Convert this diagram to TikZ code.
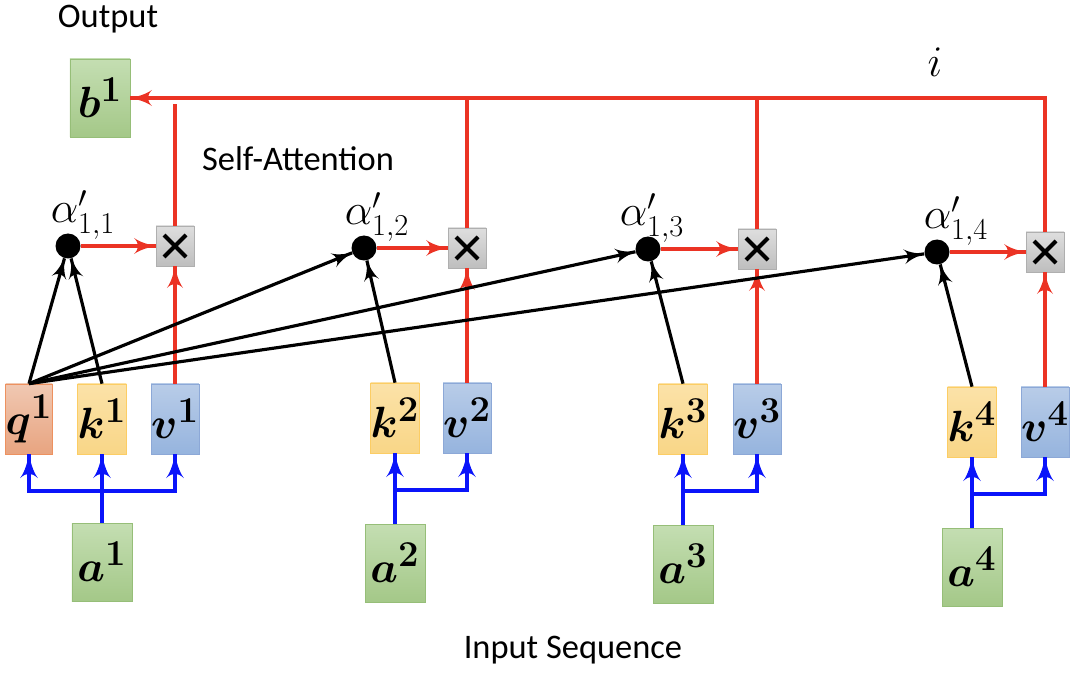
\documentclass[tikz,border=0pt]{standalone}
\usepackage[no-math]{fontspec}
\setmainfont{Carlito}
\usepackage{amsmath}
\usepackage{amssymb}
\usepackage{xcolor}
\usetikzlibrary{decorations.markings}
\usetikzlibrary{arrows}
\tikzset{tip/.style = {decoration={markings,
                                   mark=at position 1 with {\arrow[scale=1.4]{latex'}}},
                       postaction={decorate}}}
\definecolor{mred}{RGB}{235, 51, 36}
\definecolor{mblue}{RGB}{10, 20, 250}
\definecolor{mgreent}{RGB}{196, 222, 178}
\definecolor{mgreen}{RGB}{164, 200, 136}
\definecolor{mgreenb}{RGB}{150, 190, 120}
\definecolor{moranget}{RGB}{240, 200, 178}
\definecolor{morange}{RGB}{232, 164, 128}
\definecolor{morangeb}{RGB}{237, 145, 95}
\definecolor{myellowt}{RGB}{251, 226, 168}
\definecolor{myellow}{RGB}{249, 214, 135}
\definecolor{myellowb}{RGB}{252, 205, 100}
\definecolor{mlbluet}{RGB}{184, 204, 232}
\definecolor{mlblue}{RGB}{150, 180, 222}
\definecolor{mlblueb}{RGB}{140, 168, 215}
\definecolor{mgrayt}{RGB}{222, 222, 222}
\definecolor{mgray}{RGB}{190, 190, 190}
\definecolor{mgrayb}{RGB}{175, 175, 175}
\tikzset{txt/.style = {font=\fontsize{19.6}{22}\selectfont, inner sep=0}}
\tikzset{mathlab/.style = {font=\fontsize{26}{28}\selectfont, inner sep=0}}
\tikzset{tok/.style = {rectangle, inner sep=0, font=\fontsize{28}{30}\selectfont}}
\tikzset{inbox/.style = {tok, draw=mgreenb, top color=mgreent, bottom color=mgreen,
                         minimum width=12mm, minimum height=15.6mm}}
\tikzset{qbox/.style = {tok, draw=morangeb, top color=moranget, bottom color=morange,
                        minimum width=7.6mm, minimum height=14mm}}
\tikzset{kbox/.style = {tok, draw=myellowb, top color=myellowt, bottom color=myellow,
                        minimum width=7.6mm, minimum height=14mm}}
\tikzset{vbox/.style = {tok, draw=mlblueb, top color=mlbluet, bottom color=mlblue,
                        minimum width=7.6mm, minimum height=14mm}}
\tikzset{dot/.style = {fill, circle, inner sep=0, minimum size=5mm}}
\tikzset{mult/.style = {rectangle, draw=mgrayb, top color=mgrayt, bottom color=mgray,
                        minimum width=7.6mm, minimum height=8mm,
                        path picture={
                          \draw [black, line width=2.4pt] ([shift={(-11, -11)}]path picture bounding box.center)
                            -- ([shift={(11, 11)}]path picture bounding box.center);
                          \draw [black, line width=2.4pt] ([shift={(-11, 11)}]path picture bounding box.center)
                            -- ([shift={(11, -11)}]path picture bounding box.center);}}}
\tikzset{redline/.style = {mred, line width=2pt}}
\tikzset{blueline/.style = {mblue, line width=2.3pt}}
\tikzset{blackline/.style = {black, line width=1.8pt}}

\begin{document}
\begin{tikzpicture}[x=0.2mm, y=-0.2mm]
    \useasboundingbox (0, 0) rectangle (1073, 675);

    \node [txt] (outlab) at (108, 19) {Output};
    \node [txt] (salab) at (298, 159) {Self-Attention};
    \node [txt] (inlab) at (573, 650) {Input Sequence};
    \node [mathlab] (ilab) at (935, 62) {$i$};

    \node [inbox] (b1) at (100, 98) {$\boldsymbol{b^1}$};

    % first token: query, key, value
    \node [qbox] (q1) at (29, 419) {$\boldsymbol{q^1}$};
    \node [kbox] (k1) at (102, 419) {$\boldsymbol{k^1}$};
    \node [vbox] (v1) at (175, 419) {$\boldsymbol{v^1}$};
    \node [inbox] (a1) at (102, 562) {$\boldsymbol{a^1}$};
    \node [dot] (d1) at (68, 246) {};
    \node [mult] (m1) at (175, 246) {};
    \node [mathlab] (l1) at (83, 215) {$\alpha'_{1,1}$};
    \coordinate (j1) at (102, 491);
    \coordinate (t1) at (175, 104);

    \draw [blueline, tip] (a1.north) -- (k1.south);
    \draw [blueline, tip] (j1) -| (q1.south);
    \draw [blueline, tip] (j1) -| (v1.south);

    \draw [redline, tip] (d1.east) -- (m1.west);
    \draw [redline, tip] (v1.north) -- (m1.south);
    \draw [redline] (m1.north) -- (t1);
    \draw [blackline, tip] (k1.north) -- (d1);

    % other tokens: key, value
    \foreach \n/\xk/\xv/\xd/\xl/\dy in {2/395/467/364/377/1, 3/683/757/648/652/2, 4/972/1045/937/956/5} {
      \node [kbox] (k\n) at (\xk, 417+\dy) {$\boldsymbol{k^\n}$};
      \node [vbox] (v\n) at (\xv, 417+\dy) {$\boldsymbol{v^\n}$};
      \node [inbox] (a\n) at (\xk, 562+\dy) {$\boldsymbol{a^\n}$};
      \node [dot] (d\n) at (\xd, 247+\dy) {};
      \node [mult] (m\n) at (\xv, 247+\dy) {};
      \node [mathlab] (l\n) at (\xl, 216+\dy) {$\alpha'_{1,\n}$};
      \coordinate (j\n) at (\xk, 489+\dy);

      \draw [blueline, tip] (a\n.north) -- (k\n.south);
      \draw [blueline, tip] (j\n) -| (v\n.south);

      \draw [redline, tip] (d\n.east) -- (m\n.west);
      \draw [redline, tip] (v\n.north) -- (m\n.south);
      \draw [blackline, tip] (k\n.north) -- (d\n);
    }

    \draw [redline] (m2.north) -- (m2.north |- b1.east);
    \draw [redline] (m3.north) -- (m3.north |- b1.east);
    \draw [redline, tip] (m4.north) |- (b1.east);

    \foreach \n in {1, 2, 3, 4}
      \draw [blackline, tip] (q1.north) -- (d\n);
\end{tikzpicture}
\end{document}
